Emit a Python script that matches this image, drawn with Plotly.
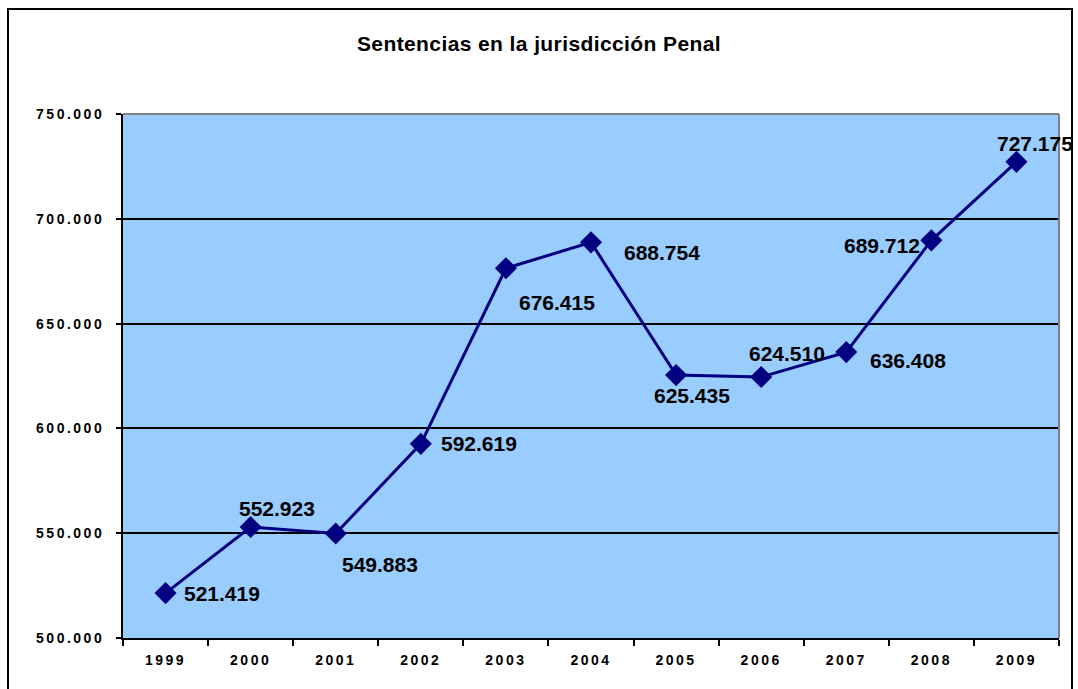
import plotly.graph_objects as go

years = ["1999", "2000", "2001", "2002", "2003", "2004", "2005", "2006", "2007", "2008", "2009"]
values = [521419, 552923, 549883, 592619, 676415, 688754, 625435, 624510, 636408, 689712, 727175]
labels = ["521.419", "552.923", "549.883", "592.619", "676.415", "688.754",
          "625.435", "624.510", "636.408", "689.712", "727.175"]
ytick_vals = [500000, 550000, 600000, 650000, 700000, 750000]
ytick_text = ["500.000", "550.000", "600.000", "650.000", "700.000", "750.000"]

# label placement (anchor, x offset px, y offset px)
placement = [("left", 16, 0), ("center", 26, 19), ("left", 4, -31), ("left", 18, 0),
             ("left", 11, -34), ("left", 31, -10), ("left", -24, -20), ("left", -14, 24),
             ("left", 22, -8), ("right", -9, -5), ("left", -21, 18)]

FONT = "Arial, Liberation Sans, sans-serif"

fig = go.Figure()
fig.add_trace(go.Scatter(
    x=years, y=values, mode="lines+markers",
    line=dict(color="#000080", width=3),
    marker=dict(symbol="diamond", size=17, color="#000080"),
    hoverinfo="skip", showlegend=False,
))

# category axis: annotation x given as category index
for i, (v, lab, pl) in enumerate(zip(values, labels, placement)):
    anc, dx, dy = pl
    fig.add_annotation(
        x=i, y=v, xref="x", yref="y", text=lab, showarrow=False,
        xanchor=anc, yanchor="middle", xshift=dx, yshift=dy,
        font=dict(family=FONT, size=21, color="black", weight="bold"),
    )

L, R, T, B = 123, 1059, 114, 638
W, H = R - L, B - T

def px(x):
    return (x - L) / W

def py(y):
    return (B - y) / H

fig.add_shape(type="rect", xref="paper", yref="paper", x0=px(8), x1=px(1072), y0=py(700), y1=py(9),
              line=dict(color="black", width=2), layer="below")
fig.add_shape(type="line", xref="paper", yref="paper", x0=0, x1=1, y0=1, y1=1,
              line=dict(color="#808080", width=2))
fig.add_shape(type="line", xref="paper", yref="paper", x0=1, x1=1, y0=0, y1=1,
              line=dict(color="#808080", width=2))

fig.update_layout(
    width=1078, height=689,
    margin=dict(l=L, r=1078 - R, t=T, b=689 - B),
    paper_bgcolor="white", plot_bgcolor="#99CCFF",
    title=dict(text="Sentencias en la jurisdicción Penal", x=0.5, xanchor="center",
               y=1 - 44 / 689, yanchor="middle", yref="container",
               font=dict(family=FONT, size=21, color="black", weight="bold")),
    xaxis=dict(type="category", range=[-0.5, 10.5], tickson="boundaries",
               ticks="outside", ticklen=6, tickcolor="black", tickwidth=2,
               showline=True, linecolor="black", linewidth=2, showgrid=False,
               tickfont=dict(family=FONT, size=14, color="black", weight="bold"),
               ticklabelstandoff=8, zeroline=False),
    yaxis=dict(range=[500000, 750000], tickvals=ytick_vals, ticktext=ytick_text,
               ticks="outside", ticklen=5, tickcolor="black", tickwidth=2,
               showline=True, linecolor="black", linewidth=2,
               showgrid=True, gridcolor="black", gridwidth=1.5, zeroline=False,
               tickfont=dict(family=FONT, size=14, color="black", weight="bold"),
               ticklabelstandoff=9),
)

fig.write_html("out.html", config={"displayModeBar": False})
with open("out.html", "r", encoding="utf-8") as f:
    html = f.read()
css = ("<style>html,body{margin:0;padding:0;overflow:hidden;}"
       ".xtick text,.ytick text{letter-spacing:2.5px;}"
       ".gtitle{letter-spacing:0.4px;}</style>")
html = html.replace("<head>", "<head>" + css, 1)
with open("out.html", "w", encoding="utf-8") as f:
    f.write(html)
